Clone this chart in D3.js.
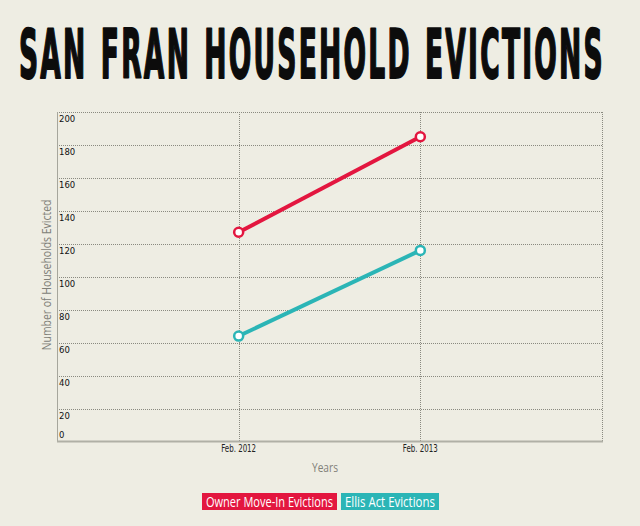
<!DOCTYPE html>
<html>
<head>
<meta charset="utf-8">
<script src="https://cdn.jsdelivr.net/npm/d3@7/dist/d3.min.js"></script>
<style>
  html, body { margin: 0; padding: 0; background: #eeede3; }
  svg { display: block; }
</style>
</head>
<body>
<svg id="chart" width="640" height="526"></svg>
<script>
const title = "SAN FRAN HOUSEHOLD EVICTIONS";
const categories = ["Feb. 2012", "Feb. 2013"];
const seriesNames = ["Owner Move-In Evictions", "Ellis Act Evictions"];
const ownerMoveIn = [127, 185];
const ellisAct = [64, 116];
const yTicks = [0, 20, 40, 60, 80, 100, 120, 140, 160, 180, 200];
const colors = ["#e3163f", "#2bb5b6"];

const svg = d3.select("#chart");
const plot = { left: 57, right: 602, top: 112, bottom: 441.5 };

function fitText(sel, x0, y0, w, anchor, sy) {
  const len = sel.node().getComputedTextLength();
  const s = w / len;
  let tx = x0;
  if (anchor === "middle") tx = x0 - w / 2;
  sel.attr("x", 0).attr("y", 0).attr("text-anchor", "start")
     .attr("transform", `translate(${tx},${y0}) scale(${s},${sy || 1})`);
}

const x = d3.scaleLinear().domain([0, categories.length + 1]).range([plot.left, plot.right]);
const y = d3.scaleLinear().domain([0, 200]).range([plot.bottom, plot.top]);

// Title
const t = svg.append("text")
  .attr("font-family", "'DejaVu Sans Condensed', 'DejaVu Sans', sans-serif")
  .attr("font-weight", "bold")
  .attr("font-size", 66)
  .attr("letter-spacing", 5)
  .attr("word-spacing", 4)
  .attr("fill", "#0c0c0c")
  .attr("stroke", "#0c0c0c")
  .attr("stroke-width", 2)
  .attr("stroke-linejoin", "round")
  .text(title);
fitText(t, 19, 78, 586, "start", 1.03);

const g = svg.append("g");
g.selectAll("line.hgrid").data(yTicks.filter(d => d > 0)).join("line")
  .attr("class", "hgrid")
  .attr("x1", plot.left).attr("x2", plot.right)
  .attr("y1", d => Math.round(y(d)) + 0.5).attr("y2", d => Math.round(y(d)) + 0.5)
  .attr("stroke", "#8a8a80").attr("stroke-width", 1).attr("stroke-dasharray", "1,1");

const vx = categories.map((c, i) => i + 1).concat([categories.length + 1]);
g.selectAll("line.vgrid").data(vx).join("line")
  .attr("class", "vgrid")
  .attr("x1", d => Math.round(x(d)) + 0.5).attr("x2", d => Math.round(x(d)) + 0.5)
  .attr("y1", plot.top).attr("y2", plot.bottom)
  .attr("stroke", "#8a8a80").attr("stroke-width", 1).attr("stroke-dasharray", "1,1");

svg.append("line")
  .attr("x1", plot.left + 0.5).attr("x2", plot.left + 0.5)
  .attr("y1", plot.top).attr("y2", plot.bottom)
  .attr("stroke", "#a6a69c").attr("stroke-width", 1);
svg.append("line")
  .attr("x1", plot.left).attr("x2", plot.right + 1)
  .attr("y1", plot.bottom).attr("y2", plot.bottom)
  .attr("stroke", "#b0b0a6").attr("stroke-width", 2);

svg.selectAll("text.ytick").data(yTicks).join("text")
  .attr("class", "ytick")
  .attr("x", plot.left + 2)
  .attr("y", d => d === 0 ? y(d) - 4 : y(d) + 10)
  .attr("font-family", "'DejaVu Sans', Verdana, sans-serif")
  .attr("font-size", 8.5)
  .attr("fill", "#111")
  .text(d => d);

svg.selectAll("text.xtick").data(categories).join("text")
  .attr("class", "xtick")
  .attr("font-family", "'DejaVu Sans Condensed', 'DejaVu Sans', sans-serif")
  .attr("font-size", 10)
  .attr("fill", "#222")
  .text(d => d)
  .each(function (d, i) { fitText(d3.select(this), x(i + 1), 452, 35, "middle"); });

const yr = svg.append("text")
  .attr("font-family", "'Open Sans', sans-serif")
  .attr("font-size", 13)
  .attr("fill", "#808078")
  .text("Years");
fitText(yr, 325, 472, 26, "middle");

svg.append("text")
  .attr("transform", "translate(51,275) rotate(-90) scale(0.87,1)")
  .attr("text-anchor", "middle")
  .attr("font-family", "'Open Sans', sans-serif")
  .attr("font-size", 12)
  .attr("fill", "#808078")
  .text("Number of Households Evicted");

const series = [ownerMoveIn, ellisAct];
const line = d3.line().x((d, i) => x(i + 1)).y(d => y(d));
series.forEach((vals, si) => {
  svg.append("path")
    .datum(vals)
    .attr("d", line)
    .attr("fill", "none")
    .attr("stroke", colors[si])
    .attr("stroke-width", 4);
  svg.selectAll("circle.s" + si).data(vals).join("circle")
    .attr("class", "s" + si)
    .attr("cx", (d, i) => x(i + 1))
    .attr("cy", d => y(d))
    .attr("r", 4.5)
    .attr("fill", "#fff")
    .attr("stroke", colors[si])
    .attr("stroke-width", 2.5);
});

const legend = [
  { x: 202, w: 135 },
  { x: 341, w: 98 }
];
seriesNames.forEach((name, i) => {
  svg.append("rect")
    .attr("x", legend[i].x).attr("y", 493)
    .attr("width", legend[i].w).attr("height", 17)
    .attr("fill", colors[i]);
  const lt = svg.append("text")
    .attr("font-family", "'Open Sans', sans-serif")
    .attr("font-size", 14)
    .attr("fill", "#fff")
    .text(name);
  fitText(lt, legend[i].x + legend[i].w / 2, 506.5, legend[i].w - 8, "middle");
});
</script>
</body>
</html>
